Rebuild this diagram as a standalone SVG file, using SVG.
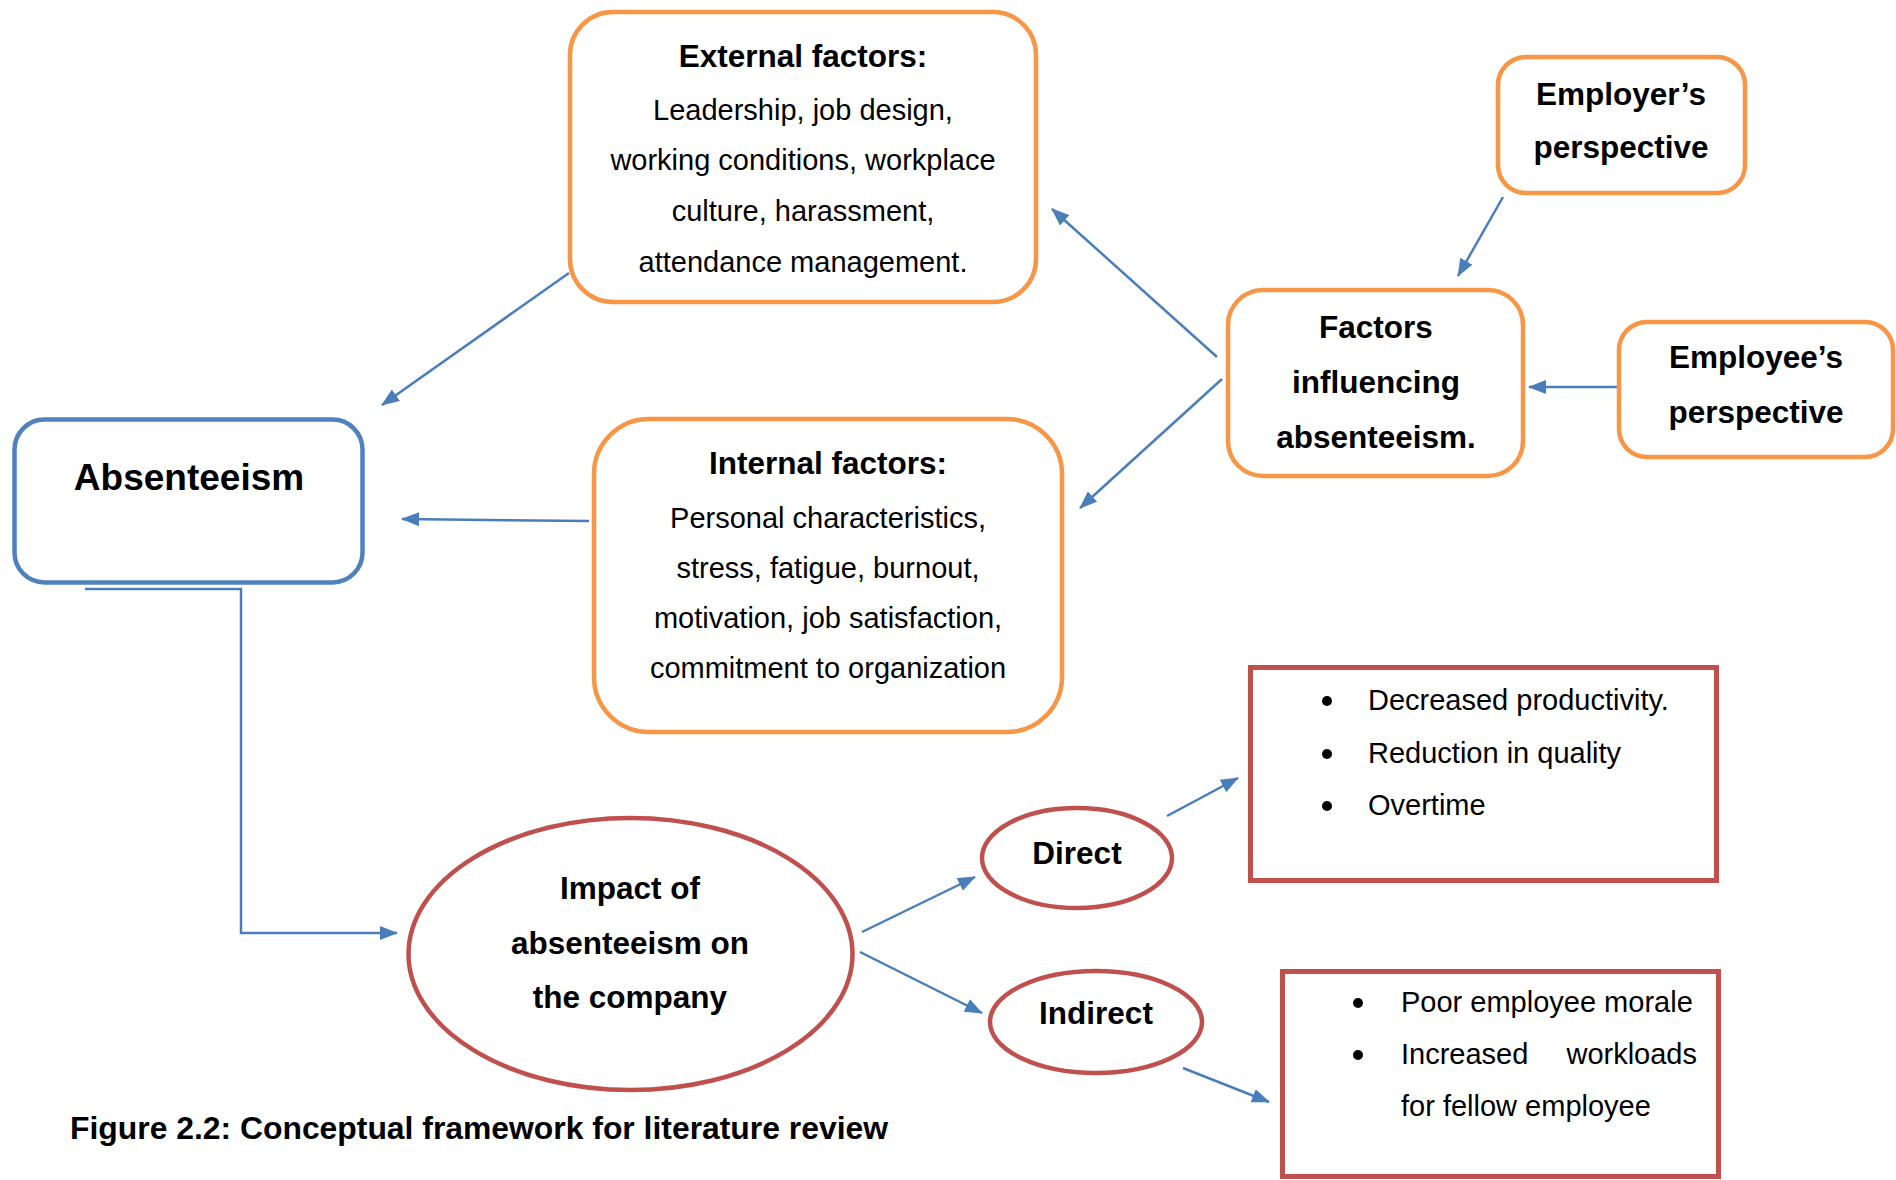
<svg xmlns="http://www.w3.org/2000/svg" width="1896" height="1180" viewBox="0 0 1896 1180">
<style>
  .orange { fill: #FFFFFF; stroke: #F79646; stroke-width: 4.5; }
  .blue { fill: #FFFFFF; stroke: #4F81BD; stroke-width: 4.5; }
  .red { fill: #FFFFFF; stroke: #C0504D; stroke-width: 4.5; }
  .b { font-family: "Liberation Sans", Arial, sans-serif; font-weight: bold; font-size: 31.5px; fill: #000000; text-anchor: middle; }
  .r { font-family: "Liberation Sans", Arial, sans-serif; font-size: 29px; fill: #000000; text-anchor: middle; }
  .l { font-family: "Liberation Sans", Arial, sans-serif; font-size: 29px; fill: #000000; }
  .conn { fill: none; stroke: #4A7EBB; stroke-width: 2.5; marker-end: url(#arr); }
</style>
<defs>
  <marker id="arr" viewBox="0 0 18 14" refX="17" refY="7" markerWidth="18" markerHeight="14" markerUnits="userSpaceOnUse" orient="auto">
    <path d="M0,0 L18,7 L0,14 z" fill="#4A7EBB"/>
  </marker>
</defs>
<rect width="1896" height="1180" fill="#FFFFFF"/>

<g id="connectors">
  <line class="conn" x1="569" y1="273" x2="382" y2="405"/>
  <line class="conn" x1="1217" y1="357" x2="1052" y2="209"/>
  <line class="conn" x1="1222" y1="379" x2="1080" y2="508"/>
  <line class="conn" x1="589" y1="521" x2="402" y2="519"/>
  <line class="conn" x1="1503" y1="197" x2="1458" y2="276"/>
  <line class="conn" x1="1617" y1="387" x2="1529" y2="387"/>
  <path class="conn" d="M85,589 H241 V933 H397"/>
  <line class="conn" x1="862" y1="932" x2="975" y2="877"/>
  <line class="conn" x1="860" y1="952" x2="982" y2="1013"/>
  <line class="conn" x1="1167" y1="816" x2="1238" y2="778"/>
  <line class="conn" x1="1183" y1="1068" x2="1269" y2="1102"/>
</g>

<g id="external-factors">
  <rect class="orange" x="570" y="12" width="466" height="290" rx="43" ry="43"/>
  <text class="b" x="803" y="67">External factors:</text>
  <text class="r" x="803" y="120">Leadership, job design,</text>
  <text class="r" x="803" y="170">working conditions, workplace</text>
  <text class="r" x="803" y="221">culture, harassment,</text>
  <text class="r" x="803" y="272">attendance management.</text>
</g>

<g id="employers-perspective">
  <rect class="orange" x="1498" y="57" width="247" height="136" rx="28" ry="28"/>
  <text class="b" x="1621" y="105">Employer’s</text>
  <text class="b" x="1621" y="158">perspective</text>
</g>

<g id="factors-influencing">
  <rect class="orange" x="1228" y="290" width="295" height="186" rx="35" ry="35"/>
  <text class="b" x="1376" y="338">Factors</text>
  <text class="b" x="1376" y="393">influencing</text>
  <text class="b" x="1376" y="448">absenteeism.</text>
</g>

<g id="employees-perspective">
  <rect class="orange" x="1619" y="322" width="274" height="135" rx="28" ry="28"/>
  <text class="b" x="1756" y="368">Employee’s</text>
  <text class="b" x="1756" y="423">perspective</text>
</g>

<g id="absenteeism">
  <rect class="blue" x="14.5" y="419.5" width="348" height="163" rx="30" ry="30"/>
  <text class="b" x="189" y="490" style="font-size:37px">Absenteeism</text>
</g>

<g id="internal-factors">
  <rect class="orange" x="594" y="419" width="468" height="313" rx="55" ry="55"/>
  <text class="b" x="828" y="474">Internal factors:</text>
  <text class="r" x="828" y="528">Personal characteristics,</text>
  <text class="r" x="828" y="578">stress, fatigue, burnout,</text>
  <text class="r" x="828" y="628">motivation, job satisfaction,</text>
  <text class="r" x="828" y="678">commitment to organization</text>
</g>

<g id="impact">
  <ellipse class="red" cx="630.5" cy="954" rx="222" ry="136"/>
  <text class="b" x="630" y="899">Impact of</text>
  <text class="b" x="630" y="954">absenteeism on</text>
  <text class="b" x="630" y="1008">the company</text>
</g>

<g id="direct">
  <ellipse class="red" cx="1077" cy="858" rx="95" ry="50"/>
  <text class="b" x="1077" y="864">Direct</text>
</g>

<g id="indirect">
  <ellipse class="red" cx="1096" cy="1022" rx="106" ry="51"/>
  <text class="b" x="1096" y="1024">Indirect</text>
</g>

<g id="direct-effects">
  <rect class="red" x="1250.5" y="667.5" width="466" height="213" style="stroke-width:5"/>
  <circle cx="1327" cy="701" r="5" fill="#000000"/>
  <circle cx="1327" cy="754" r="5" fill="#000000"/>
  <circle cx="1327" cy="806" r="5" fill="#000000"/>
  <text class="l" x="1368" y="710">Decreased productivity.</text>
  <text class="l" x="1368" y="763">Reduction in quality</text>
  <text class="l" x="1368" y="815">Overtime</text>
</g>

<g id="indirect-effects">
  <rect class="red" x="1282.5" y="971.5" width="436" height="205" style="stroke-width:5"/>
  <circle cx="1358" cy="1003" r="5" fill="#000000"/>
  <circle cx="1358" cy="1055" r="5" fill="#000000"/>
  <text class="l" x="1401" y="1012">Poor employee morale</text>
  <text class="l" x="1401" y="1064">Increased</text>
  <text class="l" x="1697" y="1064" style="text-anchor:end">workloads</text>
  <text class="l" x="1401" y="1116">for fellow employee</text>
</g>

<g id="caption">
  <text class="b" x="70" y="1139" style="text-anchor:start" textLength="818" lengthAdjust="spacingAndGlyphs">Figure 2.2: Conceptual framework for literature review</text>
</g>
</svg>
